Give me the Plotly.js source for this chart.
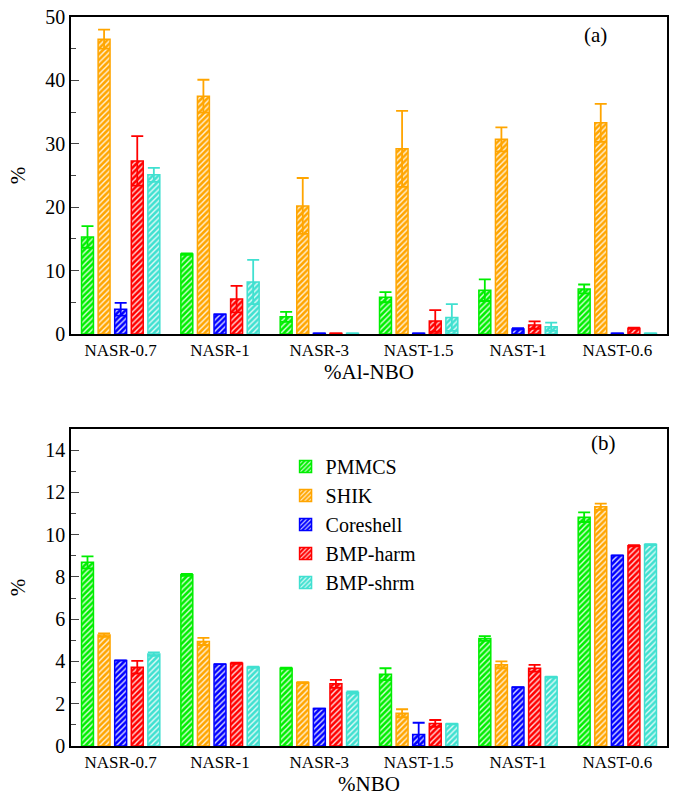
<!DOCTYPE html>
<html>
<head>
<meta charset="utf-8">
<script src="https://cdn.plot.ly/plotly-3.0.1.min.js"></script>
</head>
<body style="margin:0;background:#fff">
<div id="chart" style="width:674px;height:796px"></div>
<script>
const categories = ['NASR-0.7','NASR-1','NASR-3','NAST-1.5','NAST-1','NAST-0.6'];
const seriesNames = ['PMMCS','SHIK','Coreshell','BMP-harm','BMP-shrm'];
const seriesColors = ['#00ee00','#ffa500','#0000ff','#ff0000','#40e0d0'];

// Panel (a): %Al-NBO
const pmmcsA = [15.3, 12.6, 2.7, 5.8, 6.9, 7.1];
const pmmcsAerr = [1.7, 0.1, 0.8, 0.8, 1.7, 0.7];
const shikA = [46.5, 37.5, 20.2, 29.2, 30.7, 33.3];
const shikAerr = [1.5, 2.6, 4.4, 6.0, 1.9, 3.0];
const coreA = [3.9, 3.1, 0.1, 0.1, 0.8, 0.1];
const coreAerr = [1.0, 0, 0, 0, 0.1, 0];
const harmA = [27.3, 5.5, 0.1, 2.05, 1.4, 0.9];
const harmAerr = [3.9, 2.1, 0, 1.7, 0.6, 0.1];
const shrmA = [25.1, 8.2, 0.1, 2.6, 1.15, 0.1];
const shrmAerr = [1.1, 3.5, 0, 2.1, 0.65, 0];

// Panel (b): %NBO
const pmmcsB = [8.69, 8.1, 3.68, 3.4, 5.09, 10.83];
const pmmcsBerr = [0.28, 0.05, 0.03, 0.28, 0.11, 0.23];
const shikB = [5.25, 4.95, 3.0, 1.55, 3.84, 11.32];
const shikBerr = [0.08, 0.17, 0.02, 0.19, 0.16, 0.15];
const coreB = [4.05, 3.87, 1.77, 0.55, 2.78, 9.02];
const coreBerr = [0, 0, 0, 0.55, 0, 0];
const harmB = [3.73, 3.92, 2.94, 1.07, 3.68, 9.48];
const harmBerr = [0.3, 0.03, 0.19, 0.16, 0.16, 0.03];
const shrmB = [4.35, 3.73, 2.53, 1.04, 3.26, 9.53];
const shrmBerr = [0.08, 0.03, 0.05, 0.02, 0.02, 0.02];

const panelA = [[pmmcsA,pmmcsAerr],[shikA,shikAerr],[coreA,coreAerr],[harmA,harmAerr],[shrmA,shrmAerr]];
const panelB = [[pmmcsB,pmmcsBerr],[shikB,shikBerr],[coreB,coreBerr],[harmB,harmBerr],[shrmB,shrmBerr]];

function makeTrace(vals, errs, i, xa, ya, showLegend) {
  const c = seriesColors[i];
  return {
    type: 'bar', x: categories, y: vals, name: seriesNames[i],
    xaxis: xa, yaxis: ya, showlegend: showLegend,
    marker: {
      color: c,
      line: {color: c, width: 1.5},
      pattern: {shape: '/', fgcolor: 'rgba(255,255,255,0.85)', bgcolor: c, size: 4, solidity: 0.35, fillmode: 'replace'}
    },
    error_y: {type: 'data', array: errs, visible: true, color: c, thickness: 1.8, width: 6}
  };
}

const traces = [];
panelA.forEach((s, i) => traces.push(makeTrace(s[0], s[1], i, 'x', 'y', false)));
panelB.forEach((s, i) => traces.push(makeTrace(s[0], s[1], i, 'x2', 'y2', true)));

const FAM = 'Times New Roman';
const f = (size) => ({family: FAM, size: size});
const axCommon = {showline: true, linecolor: '#000', linewidth: 1.5, mirror: true, showgrid: false, zeroline: false};

const layout = {
  width: 674, height: 796,
  margin: {l: 71, r: 7, t: 17, b: 50},
  paper_bgcolor: '#fff', plot_bgcolor: '#fff',
  font: {family: FAM, size: 17, color: 'black'},
  barmode: 'group', bargap: 0.165, bargroupgap: 0.28,
  xaxis: Object.assign({}, axCommon, {domain: [0,1], anchor: 'y', ticks: '', tickfont: f(17),
    title: {text: '%Al-NBO', font: f(21), standoff: 2}}),
  yaxis: Object.assign({}, axCommon, {domain: [0.5652, 1], anchor: 'x', range: [0, 50], dtick: 10,
    ticks: 'inside', ticklen: 8, tickwidth: 1.2, tickfont: f(20),
    minor: {dtick: 5, ticks: 'inside', ticklen: 5, tickwidth: 1.2},
    title: {text: '%', font: f(21), standoff: 14}}),
  xaxis2: Object.assign({}, axCommon, {domain: [0,1], anchor: 'y2', ticks: '', tickfont: f(17),
    title: {text: '%NBO', font: f(21), standoff: 2}}),
  yaxis2: Object.assign({}, axCommon, {domain: [0, 0.4348], anchor: 'x2', range: [0, 15], dtick: 2,
    ticks: 'inside', ticklen: 8, tickwidth: 1.2, tickfont: f(20),
    minor: {dtick: 1, ticks: 'inside', ticklen: 5, tickwidth: 1.2},
    title: {text: '%', font: f(21), standoff: 14}}),
  legend: {x: 0.36, y: 0.41, xanchor: 'left', yanchor: 'top', bgcolor: 'rgba(0,0,0,0)',
    font: f(20), tracegroupgap: 0, itemwidth: 30},
  annotations: [
    {text: '(a)', xref: 'paper', yref: 'paper', x: 0.88, y: 0.975, showarrow: false, font: f(21), xanchor: 'center', yanchor: 'middle'},
    {text: '(b)', xref: 'paper', yref: 'paper', x: 0.893, y: 0.416, showarrow: false, font: f(21), xanchor: 'center', yanchor: 'middle'}
  ]
};

Plotly.newPlot('chart', traces, layout, {displayModeBar: false});
</script>
</body>
</html>
